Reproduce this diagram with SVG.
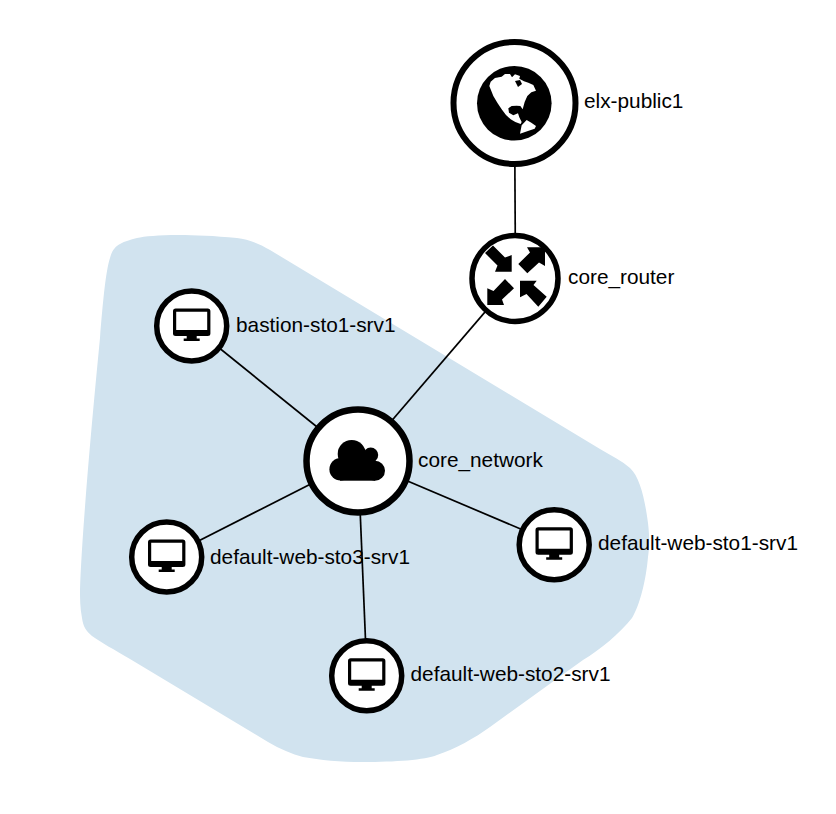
<svg xmlns="http://www.w3.org/2000/svg" width="836" height="814" viewBox="0 0 836 814">
<style>
text{font-family:"Liberation Sans",Arial,sans-serif;font-size:20.800px;fill:#000}
.ring{fill:#fff;stroke:#000;stroke-width:5.500}
.link{stroke:#000;stroke-width:1.700;fill:none}
</style>
<defs>
<g id="pc">
<path fill-rule="evenodd" d="M-16-17.500H16Q18.700-17.500 18.700-14.800V7.500Q18.700 10 16 10H5V12.500H8V15H-8V12.500H-5V10H-16Q-18.700 10-18.700 7.500V-14.800Q-18.700-17.500-16-17.500ZM-15.500-14.200V4H15.500V-14.200Z" fill="#000"/>
</g>
</defs>
<rect width="836" height="814" fill="#fff"/>
<path id="hull" fill="#d1e3ef" d="M110 258C112 250 116 246 120 244C125 241 130 240 137 238C150 235 185 233 237 238C248 239 260 244 270 250L600 449C612 456 622 461 630 468C640 477 645 500 648 523C650 540 649 550 648 557C646 580 640 605 632 618C620 633 600 650 583 660L490 727C475 738 455 749 437 755C425 760 395 762 363 762C340 762 320 760 303 757C292 754 280 749 268 742L130 659C115 650 100 642 92 636C86 631 83 626 82 618C80 608 80 598 80 590C82 530 92 420 100 338C103 300 106 270 110 258Z"/>
<g id="connectors">
<line class="link" x1="514.500" y1="101" x2="515.500" y2="277"/>
<line class="link" x1="515" y1="277" x2="358" y2="460"/>
<line class="link" x1="192" y1="326" x2="358" y2="460"/>
<line class="link" x1="167" y1="557" x2="358" y2="460"/>
<line class="link" x1="556" y1="544" x2="358" y2="460"/>
<line class="link" x1="367" y1="676" x2="358" y2="460"/>
</g>
<g id="elx-public1">
<circle class="ring" cx="514.500" cy="103" r="61" style="stroke-width:6"/>
<circle cx="514.300" cy="103.300" r="37.300" fill="#000"/>
<g transform="translate(470 60) scale(.3333)" fill="#fff">
<path d="M58 78L62 65 75 54 95 50 105 42 120 42 126 52 135 43 150 48 148 56 162 64 175 68 190 75 198 92 184 97 172 108 164 126 158 148 151 138 140 137 125 138 115 145 117 158 130 166 144 160 148 172 155 186 152 192 136 186 122 178 108 165 95 148 82 128 70 108Z"/>
<path d="M150 221L155 196 170 180 184 188 198 198 194 206 176 212Z"/>
</g>
<path fill="#000" d="M515 81L520 80 522 84 518 87Z"/>
<text x="584" y="108">elx-public1</text>
</g>
<g id="core_router">
<circle class="ring" cx="515" cy="278.500" r="43"/>
<path d="M485 253L493 245.500 505 257.500 511.700 255V271.700H495L497.500 265.500Z"/>
<path d="M518.300 264L530 252.500 527 247.300H545V266L539 262.500 527.300 273.300Z"/>
<path d="M505 279L514 288.300 502 299.500 504 305H487.300V288.300L493.500 291Z"/>
<path d="M546.700 296.700L538.300 306.700 526.500 294 520 297.300V280.700H536.700L533.500 285Z"/>
<text x="568" y="284">core_router</text>
</g>
<g id="bastion-sto1-srv1">
<circle class="ring" cx="191.700" cy="326" r="35"/>
<use href="#pc" x="191.700" y="326"/>
<text x="236" y="332">bastion-sto1-srv1</text>
</g>
<g id="core_network">
<circle class="ring" cx="358" cy="461" r="51.500" style="stroke-width:6.500"/>
<g fill="#000">
<circle cx="351.700" cy="454" r="14"/>
<circle cx="370.700" cy="455" r="7.500"/>
<circle cx="340.700" cy="469.300" r="11.300"/>
<circle cx="375" cy="470.700" r="10"/>
<rect x="340" y="455" width="35" height="25.700"/>
</g>
<text x="418" y="467">core_network</text>
</g>
<g id="default-web-sto3-srv1">
<circle class="ring" cx="166.700" cy="557" r="35"/>
<use href="#pc" x="166.700" y="557"/>
<text x="210" y="564">default-web-sto3-srv1</text>
</g>
<g id="default-web-sto1-srv1">
<circle class="ring" cx="554.200" cy="544.700" r="35"/>
<use href="#pc" x="554.200" y="544.700"/>
<text x="598" y="550">default-web-sto1-srv1</text>
</g>
<g id="default-web-sto2-srv1">
<circle class="ring" cx="366.700" cy="675.800" r="35"/>
<use href="#pc" x="366.700" y="675.800"/>
<text x="410.500" y="681">default-web-sto2-srv1</text>
</g>
</svg>
